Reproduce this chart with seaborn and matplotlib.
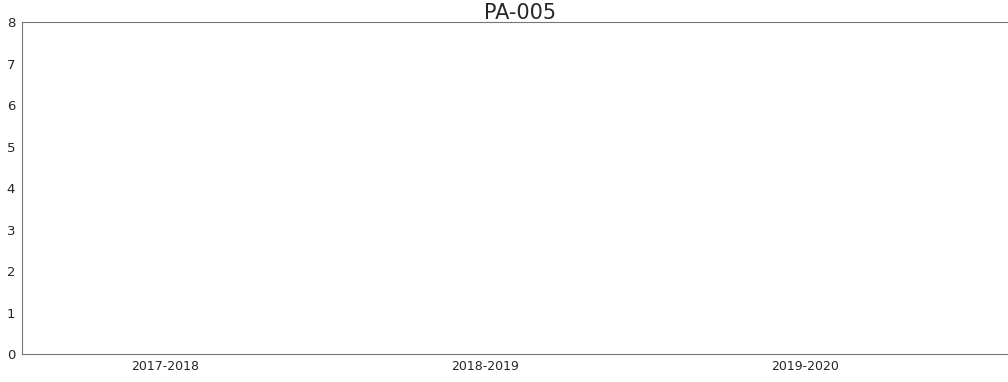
import pandas as pd
import seaborn as sns
import matplotlib.pyplot as plt

# Data (all bars are at zero)
seasons = ["2017-2018", "2018-2019", "2019-2020"]
counts = [0, 0, 0]

df = pd.DataFrame({"season": seasons, "count": counts})

sns.set_style("white")
fig = plt.figure(figsize=(10.08, 3.82), dpi=100)
ax = fig.add_axes([0.022, 0.073, 1.0, 0.869])

sns.barplot(data=df, x="season", y="count", color="#1f77b4", ax=ax)

ax.set_xlim(-0.447, 2.703)
ax.set_ylim(0, 8)
ax.set_yticks(range(0, 9))
ax.set_xlabel("")
ax.set_ylabel("")
ax.set_title("PA-005", fontsize=15, pad=2, x=0.494)

for side in ["top", "bottom", "left"]:
    ax.spines[side].set_color("#777777")
    ax.spines[side].set_linewidth(0.8)
ax.spines["right"].set_visible(False)

ax.tick_params(axis="y", length=3, width=0.6, color="#888888", labelsize=9.5, pad=2)
ax.tick_params(axis="x", length=0, labelsize=9, pad=4)

fig.savefig("out.png", dpi=100)
